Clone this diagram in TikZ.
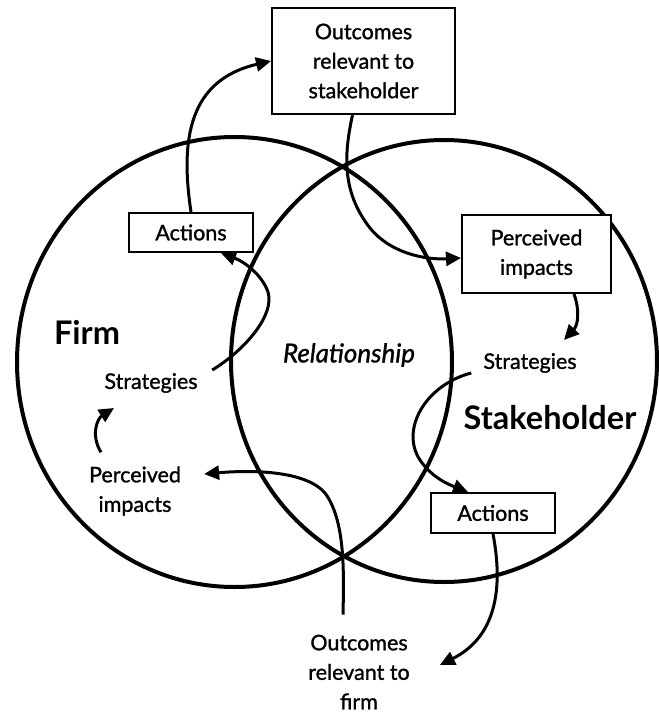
\documentclass[tikz,border=0pt]{standalone}
\usepackage{fontspec}
\setmainfont{Lato}
\newfontfamily\labelfont{Lato}[FakeBold=1.2]
\usetikzlibrary{arrows.meta}
\begin{document}
\begin{tikzpicture}[x=1pt,y=-1pt,
  ring/.style={line width=4pt},
  flow/.style={line width=3pt,-{Triangle[length=15pt,width=14pt]}},
  boxed/.style={draw,line width=2pt,fill=white},
  lbl/.style={align=center,font=\labelfont\fontsize{21.5}{29.5}\selectfont,inner sep=0pt},
  big/.style={font=\fontsize{32.5}{36}\selectfont\bfseries,inner sep=0pt}]
\useasboundingbox (0,0) rectangle (659,713);
\fill[white] (0,0) rectangle (659,713);

% the two overlapping circles
\draw[ring] (234.5,362) ellipse [x radius=217.5pt, y radius=225pt];
\draw[ring] (444,361) ellipse [x radius=213pt, y radius=221pt];

% boxed stages
\node[lbl,boxed,minimum width=183pt,minimum height=106pt] (outS) at (363.5,61) {Outcomes\\relevant to\\stakeholder};
\node[lbl,boxed,minimum width=124pt,minimum height=39pt] (actL) at (191,232.5) {Actions};
\node[lbl,boxed,minimum width=149pt,minimum height=78pt] (perI) at (536.5,254) {Perceived\\impacts};
\node[lbl,boxed,minimum width=124pt,minimum height=40pt] (actR) at (493,513) {Actions};

% free labels
\node[lbl] (stratL) at (151,383) {Strategies};
\node[lbl] (stratR) at (530,363) {Strategies};
\node[lbl] (perL) at (135,491) {Perceived\\impacts};
\node[lbl] (outF) at (359,672) {Outcomes\\relevant to\\firm};
\node[lbl,font=\labelfont\fontsize{26}{30}\selectfont\itshape] (rel) at (349,355) {Relationship};
\node[big] (firm) at (87,332) {Firm};
\node[big] (stake) at (550,418) {Stakeholder};

% firm side loop
\draw[flow] (actL.north) .. controls +(-11,-73) and +(-82,19) .. (outS.west);
\draw[flow] ([shift={(-11,0)}]outS.south) .. controls (345,150) and (340,190) .. (370,228)
  .. controls (390,253) and (425,260) .. ([shift={(0,4)}]perI.west);
\draw[flow] ([shift={(37.5,0)}]perI.south) .. controls +(6,17) and +(14,-15) .. ([shift={(34,-13)}]stratR.north);
\draw[flow] ([shift={(-12,10)}]stratR.west) .. controls (425,385) and (400,430) .. (420,460)
  .. controls (432,478) and (450,485) .. ([shift={(-25,0)}]actR.north);
\draw[flow] (actR.south) .. controls +(9,47) and +(60,-30) .. ([shift={(30,-7)}]outF.east);
\draw[flow] ([shift={(-16,-20)}]outF.north) .. controls (344,570) and (345,520) .. (325,493)
  .. controls (305,470) and (250,470) .. ([shift={(23,-17)}]perL.east);
\draw[flow] ([shift={(-34,-14)}]perL.north) .. controls +(-11,-18) and +(-16,10) .. ([shift={(-37,15)}]stratL.south);
\draw[flow] ([shift={(14.5,-13)}]stratL.east) .. controls (245,350) and (275,315) .. (268,292)
  .. controls (262,275) and (245,262) .. ([shift={(30,0)}]actL.south);
\end{tikzpicture}
\end{document}
